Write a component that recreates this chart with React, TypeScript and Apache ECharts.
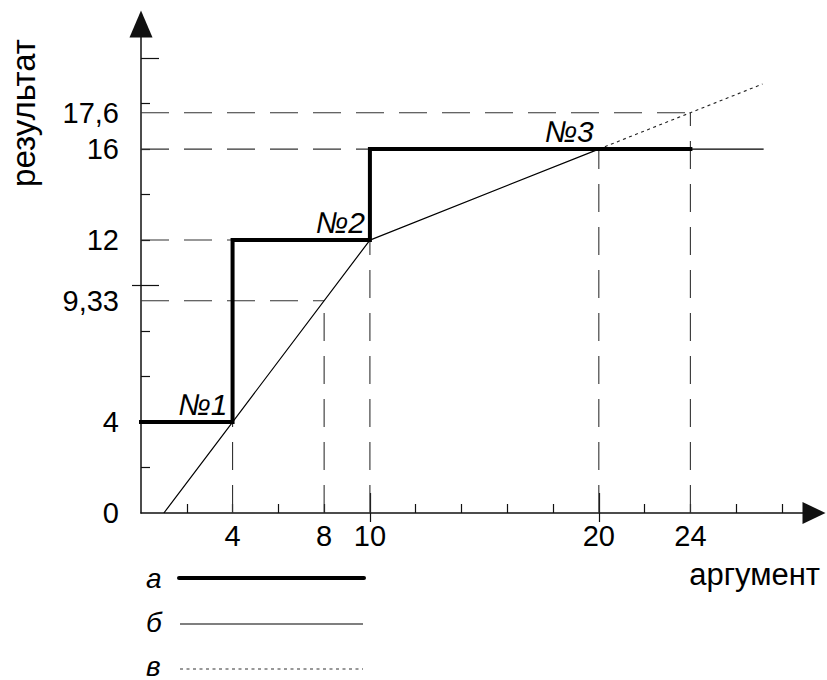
import React, { useEffect, useRef } from 'react';
import * as echarts from 'echarts';

// ---- data ----
const stepLineA: [number, number][] = [[0, 4], [4, 4], [4, 12], [10, 12], [10, 16], [24, 16]];
const lineB: [number, number][] = [[1, 0], [4, 4], [10, 12], [20, 16], [27.2, 16]];
const lineV: [number, number][] = [[20, 16], [24, 17.6], [27.15, 18.86]];
const verticalGuides: [number, number][] = [[4, 4], [8, 9.33], [10, 12], [20, 16], [24, 17.6]]; // [x, top y]
const horizontalGuides: [number, number][] = [[9.33, 8], [12, 4], [16, 10], [17.6, 24]]; // [y, end x]
const pointNames = ['№1', '№2', '№3'];
const namedPoints: [number, number][] = [[4, 4], [10, 12], [20, 16]];
const xLabelValues = [4, 8, 10, 20, 24];
const yLabelValues = [0, 4, 9.33, 12, 16, 17.6];
const xMinorTicks = [2, 4, 6, 8, 12, 14, 16, 18, 22, 24, 26, 28];
const yMinorTicks = [2, 4, 6, 8, 12, 14, 16, 18];
const xMajorTicks = [10, 20];
const yMajorTicks = [10, 20];
const yMajorOutTicks = [10];
const legendNames = ['а', 'б', 'в'];
const xName = 'аргумент';
const yName = 'результат';
const X_MAX = 29.4;
const Y_MAX = 21.5;

const FONT = '"Liberation Sans", Arial, sans-serif';
const INK = '#111';

export default function App() {
  const ref = useRef<HTMLDivElement>(null);
  useEffect(() => {
    if (!ref.current) return;
    const chart = echarts.init(ref.current, undefined, { renderer: 'svg' });

    const baseX = { type: 'value', min: 0, max: X_MAX, position: 'bottom', splitLine: { show: false } };
    const baseY = { type: 'value', min: 0, max: Y_MAX, position: 'left', splitLine: { show: false } };

    const guideStyle = { color: '#333', width: 1.1, type: [28, 15] as number[] };
    const guideSeries: any[] = [];
    verticalGuides.forEach(([x, y]) => {
      guideSeries.push({ type: 'line', data: [[x, 0], [x, y]], symbol: 'none', silent: true, lineStyle: guideStyle, z: 2 });
    });
    horizontalGuides.forEach(([y, x]) => {
      guideSeries.push({ type: 'line', data: [[0, y], [x, y]], symbol: 'none', silent: true, lineStyle: guideStyle, z: 2 });
    });

    const legendText = (text: string, y: number) => ({
      type: 'text', x: 146, y,
      style: { text, fontSize: 28, lineHeight: 22, fontStyle: 'italic', fontFamily: FONT, fill: '#000', align: 'left', verticalAlign: 'middle' },
    });

    const option: any = {
      animation: false,
      grid: { left: 141, right: 13, top: 24, bottom: 167, containLabel: false },
      xAxis: [
        {
          ...baseX,
          axisLine: { show: true, onZero: false, symbol: ['none', 'triangle'], symbolSize: [22, 23], lineStyle: { color: INK, width: 1.5 } },
          axisTick: { show: true, inside: true, length: 9, customValues: xMinorTicks, lineStyle: { color: INK, width: 1.2 } },
          axisLabel: { show: true, customValues: xLabelValues, margin: 8, fontSize: 29, color: '#000', fontFamily: FONT },
        },
        {
          ...baseX,
          axisLine: { show: false, onZero: false },
          axisTick: { show: true, inside: true, length: 20, customValues: xMajorTicks, lineStyle: { color: INK, width: 1.2 } },
          axisLabel: { show: false },
        },
        {
          ...baseX,
          axisLine: { show: false, onZero: false },
          axisTick: { show: true, inside: false, length: 9, customValues: xMajorTicks, lineStyle: { color: INK, width: 1.2 } },
          axisLabel: { show: false },
        },
      ],
      yAxis: [
        {
          ...baseY,
          axisLine: { show: true, onZero: false, symbol: ['none', 'triangle'], symbolSize: [23, 27], lineStyle: { color: INK, width: 1.5 } },
          axisTick: { show: true, inside: true, length: 9, customValues: yMinorTicks, lineStyle: { color: INK, width: 1.2 } },
          axisLabel: {
            show: true, customValues: yLabelValues, margin: 22, fontSize: 29, color: '#000', fontFamily: FONT,
            formatter: (v: number) => String(v).replace('.', ','),
          },
        },
        {
          ...baseY,
          axisLine: { show: false, onZero: false },
          axisTick: { show: true, inside: true, length: 18, customValues: yMajorTicks, lineStyle: { color: INK, width: 1.2 } },
          axisLabel: { show: false },
        },
        {
          ...baseY,
          axisLine: { show: false, onZero: false },
          axisTick: { show: true, inside: false, length: 9, customValues: yMajorOutTicks, lineStyle: { color: INK, width: 1.2 } },
          axisLabel: { show: false },
        },
      ],
      series: [
        ...guideSeries,
        { type: 'line', data: lineB, symbol: 'none', silent: true, lineStyle: { color: '#000', width: 1.2 }, z: 3 },
        { type: 'line', data: lineV, symbol: 'none', silent: true, lineStyle: { color: '#222', width: 1.1, type: [3, 3.5] }, z: 3 },
        { type: 'line', data: stepLineA, symbol: 'none', silent: true, lineStyle: { color: '#000', width: 4, join: 'miter', cap: 'square' }, z: 4 },
        {
          type: 'scatter', data: namedPoints, symbolSize: 0.01, silent: true, z: 5,
          itemStyle: { color: '#000', opacity: 1 },
          label: {
            show: true, position: [-5, -3], align: 'right', verticalAlign: 'bottom',
            formatter: (p: any) => pointNames[p.dataIndex],
            fontSize: 30, fontStyle: 'italic', fontFamily: FONT, color: '#000', opacity: 1,
          },
        },
      ],
      graphic: [
        { type: 'text', x: 820, y: 574, style: { text: xName, fontSize: 31, fontFamily: FONT, fill: '#000', align: 'right', verticalAlign: 'middle' } },
        { type: 'text', x: 23, y: 113, rotation: Math.PI / 2, style: { text: yName, fontSize: 33, fontFamily: FONT, fill: '#000', align: 'center', verticalAlign: 'middle' } },
        legendText(legendNames[0], 578),
        legendText(legendNames[1], 622),
        legendText(legendNames[2], 666),
        { type: 'line', shape: { x1: 179, y1: 578, x2: 364, y2: 578 }, style: { stroke: '#000', lineWidth: 4, lineCap: 'round' } },
        { type: 'line', shape: { x1: 180, y1: 624, x2: 363, y2: 624 }, style: { stroke: '#000', lineWidth: 1.2 } },
        { type: 'line', shape: { x1: 180, y1: 669, x2: 363, y2: 669 }, style: { stroke: '#333', lineWidth: 1.1, lineDash: [3, 3.5] } },
      ],
    };
    chart.setOption(option);
    return () => chart.dispose();
  }, []);
  return <div ref={ref} style={{ position: 'fixed', left: 0, top: 0, width: 827, height: 680, background: '#fff' }} />;
}
